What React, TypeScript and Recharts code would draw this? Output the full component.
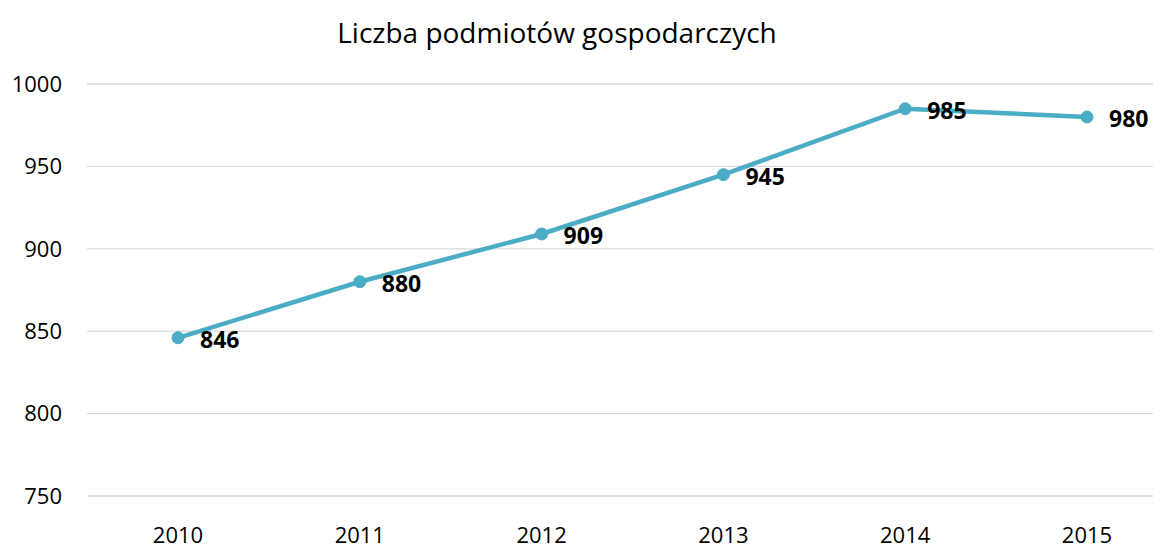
import React from "react";
import { LineChart, Line, XAxis, YAxis, CartesianGrid, LabelList } from "recharts";

const years = ["2010", "2011", "2012", "2013", "2014", "2015"];
const counts = [846, 880, 909, 945, 985, 980];
const yTicks = [750, 800, 850, 900, 950, 1000];
const title = "Liczba podmiotów gospodarczych";

const data = years.map((y, i) => ({ year: y, value: counts[i] }));

const FONT = "'Open Sans', 'Noto Sans', sans-serif";

const renderLabel = (props: any) => {
  const { x, y, value } = props;
  return (
    <text
      x={x + 22}
      y={y + 1}
      dominantBaseline="central"
      textAnchor="start"
      fontFamily={FONT}
      fontSize={23}
      fontWeight={700}
      fill="#000"
    >
      {value}
    </text>
  );
};

export default function App() {
  return (
    <div
      style={{
        position: "absolute",
        left: 0,
        top: 0,
        width: 1153,
        height: 544,
        overflow: "hidden",
        background: "#fff",
      }}
    >
      <LineChart
        width={1200}
        height={580}
        data={data}
        margin={{ top: 84, right: 22, bottom: 24, left: 0 }}
      >
        <text
          x={557}
          y={32}
          textAnchor="middle"
          dominantBaseline="central"
          fontFamily={FONT}
          fontSize={28}
          fill="#000"
        >
          {title}
        </text>
        <CartesianGrid horizontal vertical={false} stroke="#d9d9d9" strokeWidth={1.3} />
        <XAxis
          dataKey="year"
          padding={{ left: 91, right: 91 }}
          axisLine={false}
          tickLine={false}
          tickSize={0}
          tickMargin={31}
          height={60}
          tick={{ fontFamily: FONT, fontSize: 22, fill: "#000" }}
        />
        <YAxis
          domain={[750, 1000]}
          ticks={yTicks}
          width={87}
          axisLine={false}
          tickLine={false}
          tickSize={0}
          tickMargin={25}
          tick={{ fontFamily: FONT, fontSize: 22, fill: "#000" }}
        />
        <Line
          dataKey="value"
          stroke="#4BACC6"
          strokeWidth={4.5}
          dot={{ r: 6, fill: "#4BACC6", stroke: "#4BACC6", strokeWidth: 1 }}
          isAnimationActive={false}
        >
          <LabelList dataKey="value" content={renderLabel} />
        </Line>
      </LineChart>
    </div>
  );
}
